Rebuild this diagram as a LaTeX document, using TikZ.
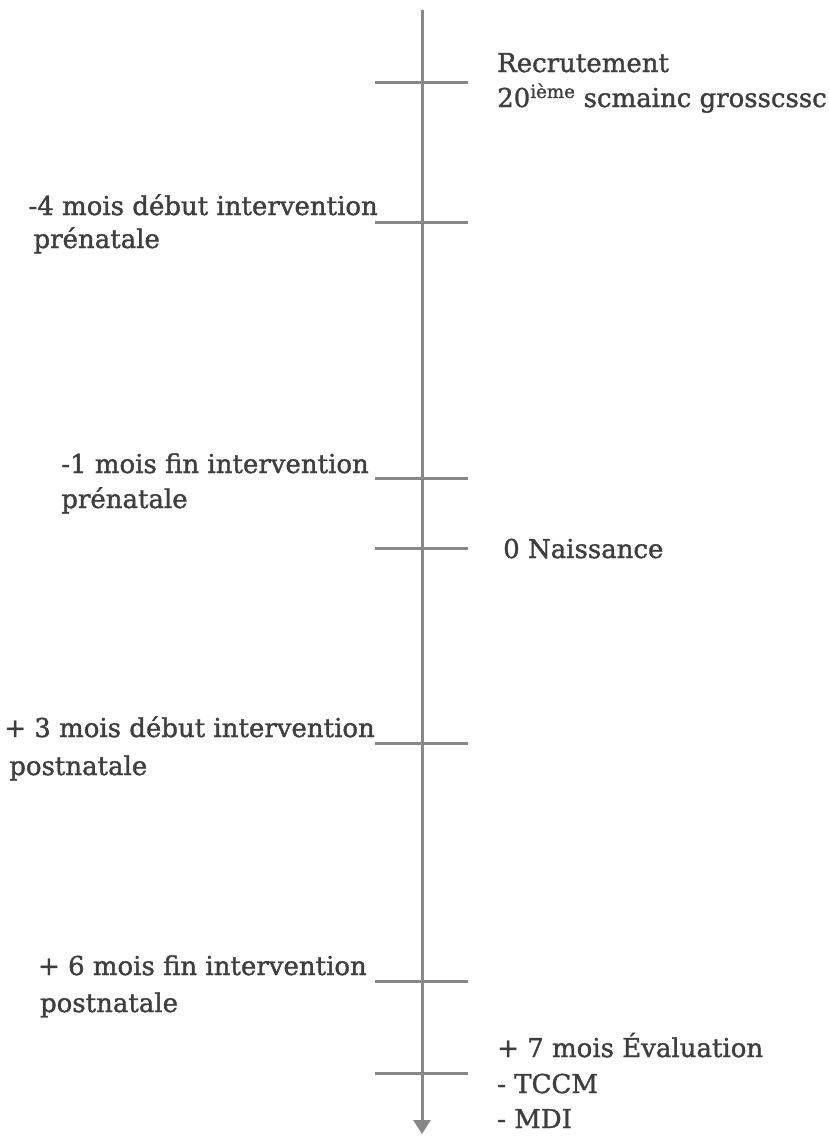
\documentclass[tikz,border=0pt]{standalone}
\usepackage{fontspec}
\setmainfont{DejaVu Serif}
\newfontfamily\reffont[FakeBold=1.3]{DejaVu Serif}
\usetikzlibrary{arrows.meta,calc}
\definecolor{axisgray}{RGB}{135,135,135}
\definecolor{textgray}{RGB}{62,62,62}
\begin{document}
\begin{tikzpicture}[x=1pt,y=-1pt,
  axisline/.style={draw=axisgray,line width=3pt},
  tickline/.style={draw=axisgray,line width=3pt},
  lbl/.style={inner sep=0pt,text=textgray,font=\reffont\fontsize{26}{31}\selectfont}]
\useasboundingbox[fill=white] (0,0) rectangle (829,1138);
% axis
\coordinate (top) at (422,10);
\coordinate (bot) at (422,1134);
\draw[axisline,-{Triangle[width=17pt,length=14pt]}] (top) -- (bot);
% ticks
\foreach \i/\y in {1/82,2/222,3/478,4/548,5/743,6/981,7/1073}{
  \coordinate (tl\i) at (375,\y);
  \coordinate (tr\i) at (468,\y);
  \draw[tickline] (tl\i) -- (tr\i);
}
% right labels
\node[lbl,anchor=base west] (r1a) at (497,72) {Recrutement};
\node[lbl,anchor=base west] (r1b) at (497,107) {20\textsuperscript{ième} scmainc grosscssc};
\node[lbl,anchor=base west] (r4) at (503,558) {0 Naissance};
\node[lbl,anchor=base west] (r7a) at (497,1057) {+ 7 mois Évaluation};
\node[lbl,anchor=base west] (r7b) at (497,1093) {- TCCM};
\node[lbl,anchor=base west] (r7c) at (497,1128) {- MDI};
% left labels
\node[lbl,anchor=base east] (l2a) at (378,215) {-4 mois début intervention};
\node[lbl,anchor=base west] (l2b) at ($(l2a.base west)+(5,33)$) {prénatale};
\node[lbl,anchor=base east] (l3a) at (369,473) {-1 mois fin intervention};
\node[lbl,anchor=base west] (l3b) at ($(l3a.base west)+(0,35)$) {prénatale};
\node[lbl,anchor=base east] (l5a) at (375,737) {+ 3 mois début intervention};
\node[lbl,anchor=base west] (l5b) at ($(l5a.base west)+(5,38)$) {postnatale};
\node[lbl,anchor=base east] (l6a) at (367,975) {+ 6 mois fin intervention};
\node[lbl,anchor=base west] (l6b) at ($(l6a.base west)+(2,37)$) {postnatale};
\end{tikzpicture}
\end{document}
